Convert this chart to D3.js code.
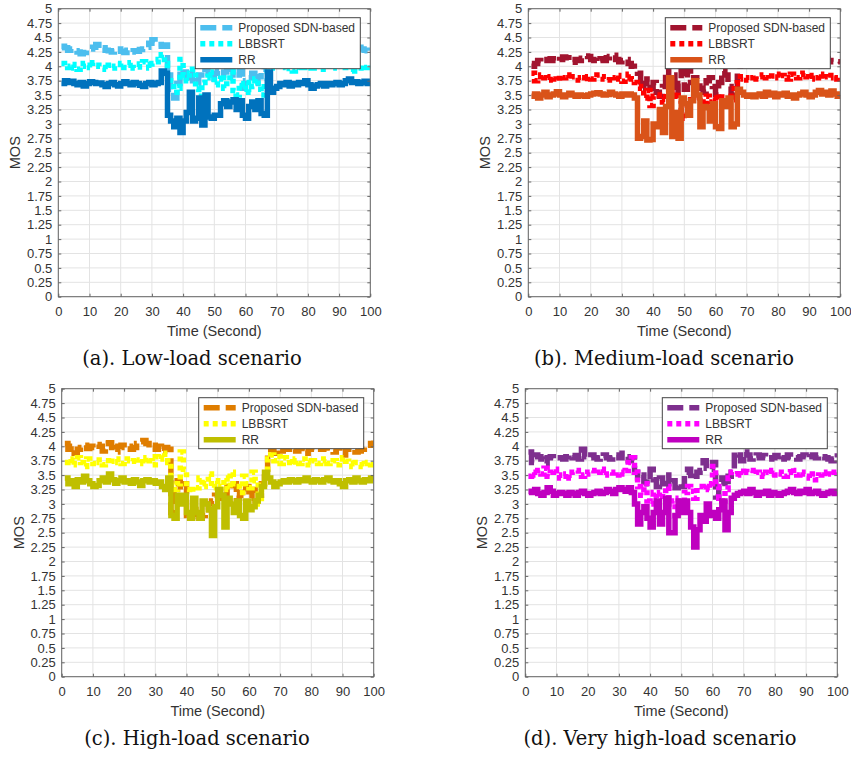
<!DOCTYPE html>
<html>
<head>
<meta charset="utf-8">
<script src="https://cdnjs.cloudflare.com/ajax/libs/d3/7.8.5/d3.min.js"></script>
<style>
  body { margin: 0; background: #fff; }
  text { font-family: "Liberation Sans", Arial, sans-serif; fill: #333; }
  .cap { font-family: "DejaVu Serif", "Liberation Serif", serif; fill: #111; }
</style>
</head>
<body>
<svg id="fig" width="851" height="758"></svg>
<script>
var seriesNames = ["Proposed SDN-based", "LBBSRT", "RR"];
var xTicks = [0, 10, 20, 30, 40, 50, 60, 70, 80, 90, 100];
var yTicks = [0, 0.25, 0.5, 0.75, 1, 1.25, 1.5, 1.75, 2, 2.25, 2.5, 2.75, 3, 3.25, 3.5, 3.75, 4, 4.25, 4.5, 4.75, 5];
var yTickLabels = ["0", "0.25", "0.5", "0.75", "1", "1.25", "1.5", "1.75", "2", "2.25", "2.5", "2.75", "3", "3.25", "3.5", "3.75", "4", "4.25", "4.5", "4.75", "5"];
var captions = ["(a). Low-load scenario", "(b). Medium-load scenario", "(c). High-load scenario", "(d). Very high-load scenario"];

// MOS per second, t = 1..100
var lowProposed = [
  4.35, 4.32, 4.28, 4.30, 4.27, 4.25, 4.22, 4.24, 4.28, 4.30,
  4.33, 4.38, 4.30, 4.32, 4.28, 4.27, 4.25, 4.29, 4.30, 4.26,
  4.24, 4.28, 4.25, 4.27, 4.26, 4.29, 4.30, 4.33, 4.40, 4.46,
  4.42, 4.38, 4.35, 4.37, 3.85, 3.60, 3.45, 3.70, 3.95, 3.90,
  3.80, 3.92, 3.75, 3.68, 3.85, 4.00, 3.95, 3.80, 3.78, 3.88,
  3.92, 3.85, 3.90, 4.05, 3.95, 3.80, 3.85, 3.92, 3.62, 3.75,
  3.80, 3.88, 3.70, 3.82, 3.95, 4.05, 4.28, 4.30, 4.32, 4.28,
  4.30, 4.27, 4.29, 4.31, 4.28, 4.30, 4.26, 4.29, 4.32, 4.30,
  4.28, 4.30, 4.33, 4.29, 4.27, 4.30, 4.31, 4.28, 4.30, 4.29,
  4.32, 4.28, 4.30, 4.27, 4.31, 4.33, 4.30, 4.28, 4.27, 4.30];
var lowLbbsrt = [
  4.05, 4.00, 3.98, 4.03, 3.97, 3.95, 4.00, 4.05, 4.02, 3.98,
  4.06, 4.02, 4.00, 3.98, 3.95, 4.02, 3.97, 4.00, 4.03, 4.05,
  3.98, 4.02, 4.06, 3.97, 3.99, 4.04, 4.08, 4.03, 3.97, 4.05,
  4.08, 4.12, 4.20, 4.05, 3.80, 3.65, 3.55, 3.62, 4.12, 3.85,
  3.75, 3.88, 3.95, 3.60, 3.48, 3.72, 3.80, 3.90, 3.85, 3.68,
  3.78, 3.85, 3.62, 3.75, 3.90, 3.58, 3.50, 3.70, 3.60, 3.72,
  3.55, 3.65, 3.78, 3.60, 3.50, 3.75, 4.05, 4.00, 3.97, 4.02,
  3.98, 4.00, 4.03, 3.96, 3.92, 3.99, 4.02, 3.98, 4.00, 4.05,
  3.97, 4.01, 4.03, 3.98, 3.95, 4.00, 4.02, 3.99, 3.97, 4.01,
  4.03, 3.98, 3.95, 4.00, 3.92, 3.97, 4.02, 3.98, 4.00, 4.02];
var lowRr = [
  3.70, 3.75, 3.72, 3.74, 3.70, 3.68, 3.72, 3.66, 3.70, 3.73,
  3.72, 3.70, 3.71, 3.68, 3.65, 3.70, 3.72, 3.68, 3.66, 3.70,
  3.73, 3.70, 3.68, 3.72, 3.70, 3.67, 3.65, 3.70, 3.72, 3.68,
  3.70, 3.72, 3.92, 3.88, 3.15, 3.05, 2.95, 3.10, 2.85, 3.05,
  3.20, 3.55, 3.05, 3.10, 3.45, 2.98, 3.50, 3.12, 3.10, 3.15,
  3.15, 3.35, 3.40, 3.30, 3.38, 3.42, 3.25, 3.40, 3.15, 3.10,
  3.30, 3.38, 3.25, 3.40, 3.18, 3.15, 3.90, 3.55, 3.62, 3.65,
  3.70, 3.68, 3.72, 3.66, 3.70, 3.68, 3.72, 3.70, 3.75, 3.68,
  3.62, 3.66, 3.68, 3.70, 3.66, 3.70, 3.68, 3.70, 3.72, 3.68,
  3.70, 3.75, 3.78, 3.72, 3.73, 3.70, 3.72, 3.74, 3.70, 3.72];

var medProposed = [
  4.00, 4.05, 4.10, 4.08, 4.12, 4.10, 4.13, 4.10, 4.08, 4.12,
  4.16, 4.15, 4.10, 4.07, 4.12, 4.10, 4.14, 4.18, 4.17, 4.12,
  4.10, 4.08, 4.13, 4.10, 4.15, 4.17, 4.19, 4.12, 4.08, 4.10,
  4.12, 4.05, 4.00, 3.93, 3.88, 3.62, 3.70, 3.78, 3.62, 3.72,
  3.55, 3.48, 3.65, 3.95, 3.78, 3.85, 3.50, 3.70, 3.92, 3.60,
  3.95, 3.72, 3.80, 3.78, 3.62, 3.55, 3.75, 3.80, 3.65, 3.50,
  3.72, 3.92, 3.85, 3.65, 3.50, 3.60, 4.00, 4.08, 4.10, 4.12,
  4.10, 4.13, 4.08, 4.11, 4.14, 4.10, 4.12, 4.09, 4.13, 4.10,
  4.11, 4.08, 4.12, 4.10, 4.14, 4.11, 4.09, 4.12, 4.10, 4.13,
  4.10, 4.12, 4.09, 4.11, 4.13, 4.10, 4.08, 4.07, 4.08, 4.05];
var medLbbsrt = [
  3.88, 3.75, 3.82, 3.85, 3.80, 3.76, 3.82, 3.78, 3.75, 3.84,
  3.80, 3.85, 3.78, 3.82, 3.80, 3.76, 3.80, 3.74, 3.82, 3.78,
  3.80, 3.85, 3.82, 3.78, 3.76, 3.82, 3.80, 3.84, 3.78, 3.74,
  3.80, 3.86, 3.78, 3.72, 3.65, 3.62, 3.45, 3.58, 3.32, 3.48,
  3.50, 3.42, 3.38, 3.55, 3.62, 3.48, 3.55, 3.40, 3.20, 3.10,
  3.35, 3.48, 3.42, 3.40, 3.45, 3.32, 3.48, 3.38, 3.45, 3.40,
  3.52, 3.45, 3.40, 3.48, 3.42, 3.70, 3.78, 3.82, 3.80, 3.76,
  3.80, 3.84, 3.78, 3.82, 3.85, 3.80, 3.78, 3.83, 3.86, 3.80,
  3.84, 3.80, 3.78, 3.86, 3.82, 3.80, 3.86, 3.88, 3.82, 3.78,
  3.84, 3.80, 3.86, 3.78, 3.82, 3.80, 3.84, 3.78, 3.80, 3.82];
var medRr = [
  3.48, 3.52, 3.45, 3.50, 3.55, 3.47, 3.50, 3.52, 3.56, 3.50,
  3.47, 3.50, 3.53, 3.50, 3.48, 3.50, 3.49, 3.48, 3.50, 3.52,
  3.53, 3.54, 3.52, 3.50, 3.51, 3.55, 3.52, 3.50, 3.48, 3.52,
  3.50, 3.52, 3.50, 3.45, 2.75, 2.78, 3.05, 2.72, 2.73, 3.00,
  2.95, 3.25, 2.85, 3.30, 3.80, 2.78, 3.20, 2.75, 3.45, 3.35,
  3.15, 3.40, 3.75, 3.50, 2.95, 3.30, 3.28, 3.05, 3.35, 2.95,
  2.92, 3.40, 3.30, 3.45, 2.95, 3.00, 3.60, 3.55, 3.50, 3.48,
  3.50, 3.47, 3.50, 3.52, 3.48, 3.55, 3.50, 3.53, 3.47, 3.52,
  3.50, 3.53, 3.48, 3.50, 3.45, 3.50, 3.52, 3.55, 3.50, 3.47,
  3.50, 3.55, 3.58, 3.52, 3.55, 3.50, 3.57, 3.52, 3.48, 3.50];

var highProposed = [
  4.05, 3.95, 4.00, 3.88, 3.95, 3.98, 4.02, 3.96, 4.00, 3.98,
  4.03, 4.00, 3.92, 4.05, 4.06, 3.98, 3.90, 4.00, 4.02, 3.98,
  4.00, 3.95, 3.98, 4.05, 4.08, 4.10, 4.05, 3.98, 4.02, 3.95,
  4.00, 3.92, 3.98, 3.95, 2.85, 3.35, 3.40, 3.25, 3.35, 2.80,
  2.78, 2.82, 2.95, 2.75, 2.80, 2.90, 3.00, 3.05, 3.15, 3.10,
  3.20, 3.15, 3.30, 3.25, 3.35, 3.10, 3.20, 3.15, 3.30, 3.10,
  3.25, 3.05, 3.15, 3.35, 3.60, 3.85, 3.95, 3.88, 3.95, 3.92,
  3.97, 3.95, 3.98, 3.95, 3.92, 3.96, 3.98, 3.88, 3.95, 3.98,
  3.96, 3.98, 3.95, 3.97, 3.98, 3.94, 3.90, 3.98, 3.97, 3.85,
  3.95, 3.98, 3.96, 3.90, 3.92, 3.95, 3.98, 4.02, 4.05, 4.10];
var highLbbsrt = [
  3.72, 3.78, 3.68, 3.75, 3.80, 3.72, 3.65, 3.78, 3.74, 3.70,
  3.76, 3.72, 3.68, 3.75, 3.70, 3.74, 3.78, 3.72, 3.70, 3.75,
  3.78, 3.74, 3.80, 3.76, 3.78, 3.70, 3.80, 3.75, 3.68, 3.82,
  3.78, 3.88, 3.80, 3.72, 3.30, 3.25, 3.35, 3.90, 3.60, 3.25,
  3.20, 3.30, 3.28, 3.45, 3.30, 3.35, 3.52, 3.28, 3.40, 3.20,
  3.30, 3.45, 3.25, 3.55, 3.35, 3.30, 3.20, 3.48, 3.35, 3.28,
  3.55, 3.40, 3.00, 3.30, 3.35, 3.78, 3.85, 3.75, 3.82, 3.70,
  3.80, 3.72, 3.78, 3.68, 3.75, 3.70, 3.78, 3.72, 3.68, 3.75,
  3.72, 3.70, 3.75, 3.78, 3.70, 3.72, 3.75, 3.68, 3.72, 3.80,
  3.74, 3.70, 3.65, 3.72, 3.68, 3.65, 3.70, 3.72, 3.68, 3.70];
var highRr = [
  3.45, 3.35, 3.40, 3.30, 3.42, 3.38, 3.48, 3.40, 3.35, 3.30,
  3.32, 3.40, 3.45, 3.38, 3.52, 3.42, 3.36, 3.40, 3.45, 3.38,
  3.40, 3.36, 3.42, 3.38, 3.32, 3.40, 3.42, 3.38, 3.40, 3.36,
  3.38, 3.30, 3.25, 3.45, 2.80, 2.75, 3.15, 3.00, 3.15, 2.85,
  2.75, 3.10, 2.85, 2.75, 3.05, 3.00, 2.90, 2.45, 2.95, 3.25,
  3.15, 2.60, 3.10, 3.00, 2.85, 3.05, 2.80, 2.75, 3.05, 2.90,
  2.95, 3.05, 3.15, 3.30, 3.55, 3.45, 3.38, 3.30, 3.35, 3.38,
  3.40, 3.38, 3.42, 3.40, 3.38, 3.42, 3.40, 3.45, 3.40, 3.38,
  3.42, 3.40, 3.38, 3.42, 3.45, 3.40, 3.38, 3.40, 3.35, 3.30,
  3.40, 3.42, 3.38, 3.45, 3.40, 3.38, 3.42, 3.40, 3.45, 3.42];

var veryProposed = [
  3.90, 3.72, 3.85, 3.82, 3.78, 3.70, 3.80, 3.82, 3.78, 3.80,
  3.80, 3.78, 3.82, 3.85, 3.80, 3.84, 3.78, 3.95, 3.82, 3.80,
  3.85, 3.80, 3.78, 3.82, 3.85, 3.80, 3.78, 3.82, 3.85, 3.80,
  3.88, 3.82, 3.75, 3.80, 3.55, 3.45, 3.50, 3.38, 3.35, 3.60,
  3.42, 3.30, 3.45, 3.35, 3.50, 3.30, 3.40, 3.28, 3.35, 3.30,
  3.55, 3.60, 3.42, 3.48, 3.55, 3.58, 3.75, 3.62, 3.60, 3.72,
  3.12, 3.38, 3.45, 3.30, 3.48, 3.55, 3.90, 3.85, 3.75, 3.90,
  3.85, 3.78, 3.82, 3.85, 3.80, 3.84, 3.82, 3.78, 3.80, 3.84,
  3.75, 3.78, 3.80, 3.85, 3.82, 3.80, 3.78, 3.82, 3.85, 3.80,
  3.82, 3.85, 3.80, 3.84, 3.82, 3.80, 3.78, 3.75, 3.80, 3.88];
var veryLbbsrt = [
  3.48, 3.55, 3.50, 3.58, 3.52, 3.62, 3.48, 3.55, 3.60, 3.50,
  3.45, 3.48, 3.52, 3.45, 3.55, 3.58, 3.50, 3.48, 3.52, 3.55,
  3.58, 3.52, 3.55, 3.60, 3.50, 3.52, 3.55, 3.48, 3.50, 3.55,
  3.52, 3.58, 3.72, 3.80, 3.55, 3.30, 3.15, 3.35, 3.05, 3.00,
  3.20, 3.10, 3.20, 3.05, 3.30, 2.95, 3.05, 2.80, 3.10, 3.00,
  3.20, 3.30, 3.22, 3.10, 3.30, 3.30, 3.25, 3.35, 3.28, 3.65,
  3.30, 3.10, 3.05, 3.25, 3.45, 3.55, 3.52, 3.58, 3.50, 3.62,
  3.55, 3.58, 3.52, 3.55, 3.50, 3.48, 3.55, 3.52, 3.58, 3.50,
  3.55, 3.52, 3.48, 3.55, 3.62, 3.58, 3.50, 3.55, 3.52, 3.48,
  3.45, 3.52, 3.42, 3.50, 3.55, 3.48, 3.52, 3.50, 3.55, 3.58];
var veryRr = [
  3.22, 3.20, 3.25, 3.18, 3.15, 3.20, 3.28, 3.22, 3.15, 3.18,
  3.20, 3.18, 3.15, 3.20, 3.18, 3.15, 3.20, 3.22, 3.18, 3.15,
  3.18, 3.20, 3.22, 3.18, 3.20, 3.25, 3.22, 3.18, 3.25, 3.28,
  3.25, 3.22, 3.28, 3.20, 3.00, 2.65, 2.85, 2.95, 2.75, 2.60,
  2.85, 3.05, 2.65, 2.85, 3.10, 2.50, 2.50, 2.80, 3.05, 2.85,
  3.05, 2.85, 2.60, 2.25, 2.55, 2.80, 2.70, 3.00, 2.80, 2.85,
  2.75, 2.90, 3.05, 2.55, 2.85, 3.10, 3.15, 3.18, 3.20, 3.22,
  3.18, 3.25, 3.20, 3.15, 3.20, 3.18, 3.22, 3.15, 3.20, 3.18,
  3.15, 3.18, 3.20, 3.22, 3.25, 3.20, 3.18, 3.22, 3.20, 3.25,
  3.18, 3.20, 3.22, 3.18, 3.15, 3.18, 3.20, 3.22, 3.18, 3.20];

var plotW = 312,
  plotH = 288,
  dashes = ["16,6", "5,4", null];

var panels = [
  { left: 58.3, top: 8.7, series: [lowProposed, lowLbbsrt, lowRr],
    colors: ["#4DBEEE", "#00FFFF", "#0072BD"], caption: captions[0], capX: 192, capY: 365 },
  { left: 528.3, top: 8.7, series: [medProposed, medLbbsrt, medRr],
    colors: ["#A2142F", "#FF0000", "#D95319"], caption: captions[1], capX: 664, capY: 365 },
  { left: 61.7, top: 388.7, series: [highProposed, highLbbsrt, highRr],
    colors: ["#DF7D00", "#FFFF00", "#BFBF00"], caption: captions[2], capX: 197, capY: 745 },
  { left: 525.3, top: 388.7, series: [veryProposed, veryLbbsrt, veryRr],
    colors: ["#7E2F8E", "#FF00FF", "#BF00BF"], caption: captions[3], capX: 660, capY: 745 }
];

var svg = d3.select("#fig");

function drawPanel(p, k){
  var g = svg.append("g").attr("transform", "translate(" + p.left + "," + p.top + ")");
  var x = d3.scaleLinear().domain([0, 100]).range([0, plotW]);
  var y = d3.scaleLinear().domain([0, 5]).range([plotH, 0]);

  // grid
  g.append("g").selectAll("line.gx").data(xTicks).enter().append("line")
    .attr("x1", function(d){ return x(d); }).attr("x2", function(d){ return x(d); })
    .attr("y1", 0).attr("y2", plotH)
    .attr("stroke", "#e3e3e3").attr("stroke-width", 1);
  g.append("g").selectAll("line.gy").data(yTicks).enter().append("line")
    .attr("y1", function(d){ return y(d); }).attr("y2", function(d){ return y(d); })
    .attr("x1", 0).attr("x2", plotW)
    .attr("stroke", "#e3e3e3").attr("stroke-width", 1);

  g.append("clipPath").attr("id", "clip" + k).append("rect")
    .attr("width", plotW).attr("height", plotH);

  var line = d3.line()
    .x(function(d, i){ return x(i + 1); })
    .y(function(d){ return y(d); })
    .curve(d3.curveStepAfter);

  var lines = g.append("g").attr("clip-path", "url(#clip" + k + ")");
  p.series.forEach(function(vals, s){
    lines.append("path")
      .attr("d", line(vals))
      .attr("fill", "none")
      .attr("stroke", p.colors[s])
      .attr("stroke-width", 5.5)
      .attr("stroke-dasharray", dashes[s])
      .attr("stroke-linejoin", "miter");
  });

  // axes, ticks inside like matlab
  var yLeft = g.append("g").call(d3.axisLeft(y).tickValues(yTicks).tickSize(-3).tickPadding(6)
    .tickFormat(function(d, i){ return yTickLabels[i]; }));
  var yRight = g.append("g").attr("transform", "translate(" + plotW + ",0)")
    .call(d3.axisRight(y).tickValues(yTicks).tickSize(-3).tickFormat(""));
  var xBottom = g.append("g").attr("transform", "translate(0," + plotH + ")")
    .call(d3.axisBottom(x).tickValues(xTicks).tickSize(-3).tickPadding(10));
  var xTop = g.append("g")
    .call(d3.axisTop(x).tickValues(xTicks).tickSize(-3).tickFormat(""));
  [yLeft, yRight, xBottom, xTop].forEach(function(a){
    a.select(".domain").remove();
    a.selectAll(".tick line").attr("stroke", "#666");
    a.selectAll("text").attr("font-size", 13).attr("fill", "#333")
      .attr("font-family", "Liberation Sans, Arial, sans-serif");
  });

  g.append("rect").attr("width", plotW).attr("height", plotH)
    .attr("fill", "none").attr("stroke", "#666").attr("stroke-width", 1);

  g.append("text").attr("x", plotW / 2).attr("y", plotH + 39.5)
    .attr("text-anchor", "middle").attr("font-size", 14.5).text("Time (Second)");
  g.append("text").attr("transform", "translate(-43," + (plotH / 2) + ") rotate(-90)")
    .attr("text-anchor", "middle").attr("dy", "0.35em").attr("font-size", 14.5).text("MOS");

  // legend
  var lg = g.append("g").attr("transform", "translate(" + (plotW - 175) + ",9)");
  lg.append("rect").attr("width", 165).attr("height", 51)
    .attr("fill", "#fff").attr("stroke", "#444").attr("stroke-width", 1);
  seriesNames.forEach(function(name, s){
    var ly = 10 + s * 16;
    lg.append("line").attr("x1", 5).attr("x2", 37).attr("y1", ly).attr("y2", ly)
      .attr("stroke", p.colors[s]).attr("stroke-width", 5.5)
      .attr("stroke-dasharray", dashes[s]);
    lg.append("text").attr("x", 43).attr("y", ly).attr("dy", "0.35em")
      .attr("font-size", 12).attr("fill", "#222").text(name);
  });

  svg.append("text").attr("class", "cap")
    .attr("x", p.capX).attr("y", p.capY)
    .attr("text-anchor", "middle").attr("font-size", 19.5).text(p.caption);
}

panels.forEach(drawPanel);
</script>
</body>
</html>
